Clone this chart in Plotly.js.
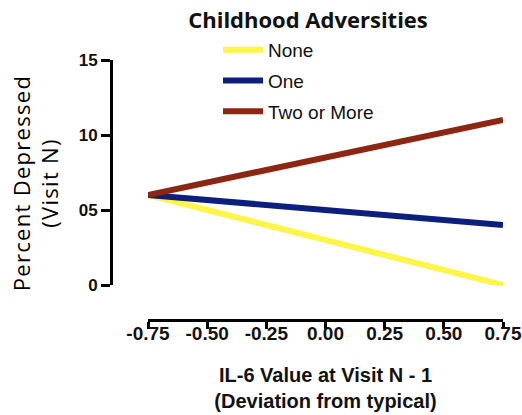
<!DOCTYPE html>
<html>
<head>
<meta charset="utf-8">
<script src="https://cdn.plot.ly/plotly-3.0.1.min.js"></script>
<style>html,body{margin:0;padding:0;background:#fff;}#chart{width:522px;height:415px;}</style>
</head>
<body>
<div id="chart"></div>
<script>
// Data
var xValues = [-0.75, 0.75];
var noneValues = [6, 0];
var oneValues = [6, 4];
var twoPlusValues = [6, 11];
var seriesNames = ["None", "One", "Two or More"];
var seriesColors = ["#fcf54a", "#0c1f7c", "#8c2512"];
var xTickVals = [-0.75, -0.5, -0.25, 0, 0.25, 0.5, 0.75];
var xTickText = ["-0.75", "-0.50", "-0.25", "0.00", "0.25", "0.50", "0.75"];
var yTickVals = [0, 5, 10, 15];
var yTickText = ["0", "05", "10", "15"];

var W = 522, H = 415;
var seriesValues = [noneValues, oneValues, twoPlusValues];
var traces = seriesValues.map(function (vals, i) {
  return {
    x: xValues, y: vals, type: "scatter", mode: "lines",
    name: seriesNames[i], legendgroup: "g" + i,
    line: {color: seriesColors[i], width: 6},
    hoverinfo: "skip"
  };
});

var ls = "letter-spacing:1.3px";
var pad = "&nbsp;&nbsp;&nbsp;";
var layout = {
  width: W, height: H,
  margin: {l: 0, r: 0, t: 0, b: 0, autoexpand: false},
  paper_bgcolor: "#ffffff", plot_bgcolor: "#ffffff",
  title: {
    text: "Childhood Adversities",
    x: 308 / W, xanchor: "center", xref: "paper",
    y: 1 - 20 / H, yanchor: "middle", yref: "paper",
    font: {family: "Open Sans, sans-serif", size: 22, weight: "bold", color: "#111"}
  },
  showlegend: true,
  legend: {
    x: 218 / W, xanchor: "left", y: 1 - 31 / H, yanchor: "top",
    traceorder: "grouped", tracegroupgap: 3, itemwidth: 40,
    font: {family: "Liberation Sans, Arial, sans-serif", size: 19, color: "#111"},
    bgcolor: "rgba(0,0,0,0)"
  },
  xaxis: {
    domain: [148 / W, 503 / W], range: [-0.75, 0.75],
    anchor: "free", position: 1 - 320 / H,
    showline: true, linewidth: 3, linecolor: "#000",
    ticks: "outside", ticklen: 7, tickwidth: 3, tickcolor: "#000",
    ticklabelstandoff: -12,
    tickvals: xTickVals, ticktext: xTickText,
    tickfont: {family: "Liberation Sans, Arial, sans-serif", size: 19, weight: "bold", color: "#111"},
    showgrid: false, zeroline: false, fixedrange: true,
    title: {text: "IL-6 Value at Visit N - 1<br>(Deviation from typical)", standoff: 25,
            font: {family: "Liberation Sans, Arial, sans-serif", size: 20, weight: "bold", color: "#111"}}
  },
  yaxis: {
    domain: [1 - 285 / H, 1 - 60 / H], range: [0, 15],
    anchor: "free", position: 111 / W,
    showline: true, linewidth: 3, linecolor: "#000",
    ticks: "outside", ticklen: 9, tickwidth: 3, tickcolor: "#000",
    tickvals: yTickVals, ticktext: yTickText,
    tickfont: {family: "Liberation Sans, Arial, sans-serif", size: 17, weight: "bold", color: "#111"},
    showgrid: false, zeroline: false, fixedrange: true,
    title: {text: "<span style=\"" + ls + "\">Percent Depressed" + pad + "</span><br><span style=\"" + ls + "\">(Visit N)" + pad + "</span>", standoff: 12,
            font: {family: "Open Sans, sans-serif", size: 22, color: "#000"}}
  }
};

Plotly.newPlot("chart", traces, layout, {staticPlot: true, displayModeBar: false});
</script>
</body>
</html>
